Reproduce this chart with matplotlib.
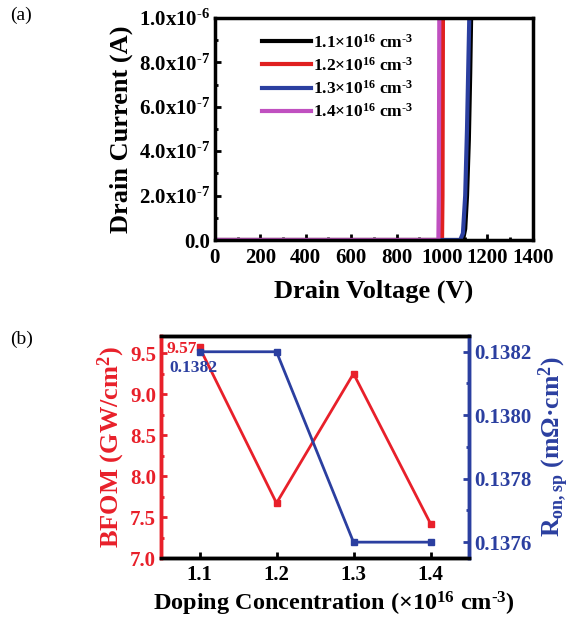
import math
import matplotlib
matplotlib.use("Agg")
import matplotlib.pyplot as plt
from matplotlib.ticker import MultipleLocator, AutoMinorLocator, FuncFormatter

plt.rcParams['font.family'] = ['Liberation Serif', 'DejaVu Serif']
plt.rcParams['font.weight'] = 'bold'
plt.rcParams['mathtext.fontset'] = 'custom'
plt.rcParams['mathtext.rm'] = 'Liberation Serif:bold'
plt.rcParams['mathtext.it'] = 'Liberation Serif:bold'
plt.rcParams['mathtext.bf'] = 'Liberation Serif:bold'
plt.rcParams['mathtext.default'] = 'regular'

# (a) I-V curves
V_11 = [0, 1092, 1102, 1110, 1118, 1124, 1128]
I_11 = [0, 0, 0.5e-7, 2e-7, 4.5e-7, 7.5e-7, 1.0e-6]
V_12 = [0, 1000, 1002, 1003, 1004]
I_12 = [0, 0, 2e-7, 6e-7, 1.0e-6]
V_13 = [0, 1080, 1092, 1102, 1110, 1116, 1120]
I_13 = [0, 0, 0.3e-7, 2e-7, 5e-7, 8e-7, 1.0e-6]
V_14 = [0, 984, 986, 987, 988]
I_14 = [0, 0, 2e-7, 6e-7, 1.0e-6]
iv_labels = [r'1.1×10$^{16}$ cm$^{\text{-}3}$', r'1.2×10$^{16}$ cm$^{\text{-}3}$',
             r'1.3×10$^{16}$ cm$^{\text{-}3}$', r'1.4×10$^{16}$ cm$^{\text{-}3}$']

# (b) BFOM and Ron,sp
doping = [1.1, 1.2, 1.3, 1.4]
bfom = [9.57, 7.67, 9.25, 7.42]
ron = [0.1382, 0.1382, 0.1376, 0.1376]

fig = plt.figure(figsize=(5.73, 6.17), dpi=100)

ax1 = fig.add_axes([0.375, 0.611, 0.555, 0.36])
ax1.plot(V_11, I_11, color='black', lw=3, label=iv_labels[0])
ax1.plot(V_12, I_12, color='#e02020', lw=3, label=iv_labels[1])
ax1.plot(V_13, I_13, color='#2b3fa0', lw=3, label=iv_labels[2])
ax1.plot(V_14, I_14, color='#c050c0', lw=3, label=iv_labels[3])
ax1.set_xlim(0, 1400)
ax1.set_ylim(0, 1.0e-6)
ax1.xaxis.set_major_locator(MultipleLocator(200))
ax1.xaxis.set_minor_locator(MultipleLocator(100))
ax1.yaxis.set_major_locator(MultipleLocator(2e-7))
ax1.yaxis.set_minor_locator(MultipleLocator(1e-7))


def sci_fmt(v, pos):
    if abs(v) < 1e-12:
        return '0.0'
    exp = int(math.floor(math.log10(abs(v)) + 1e-9))
    mant = v / 10 ** exp
    return r'%.1fx10$^{\text{-}%d}$' % (mant, -exp)


ax1.yaxis.set_major_formatter(FuncFormatter(sci_fmt))
ax1.tick_params(which='both', direction='in', top=False, right=False, width=2)
ax1.tick_params(which='major', length=4, labelsize=15)
ax1.tick_params(axis='x', which='major', pad=6)
ax1.tick_params(which='minor', length=2)
for s in ax1.spines.values():
    s.set_linewidth(2.5)
ax1.set_xlabel('Drain Voltage (V)', fontsize=19, fontweight='bold', labelpad=8)
ax1.set_ylabel('Drain Current (A)', fontsize=19, fontweight='bold')
leg = ax1.legend(loc='upper left', frameon=False, fontsize=12.5, handlelength=2.8,
                 handletextpad=0.1, labelspacing=0.3, bbox_to_anchor=(0.1, 1.0))
for t in leg.get_texts():
    t.set_fontweight('bold')

# (b)
red = '#e8202a'
blue = '#2b3fa0'
ax2 = fig.add_axes([0.281, 0.0956, 0.5375, 0.36])
ax2.plot(doping, bfom, color=red, lw=2, marker='s', ms=4)
ax2.set_xlim(1.05, 1.45)
ax2.set_ylim(7.0, 9.71)
ax2.xaxis.set_major_locator(MultipleLocator(0.1))
ax2.xaxis.set_major_formatter(FuncFormatter(lambda v, p: '%.1f' % v))
ax2.yaxis.set_major_locator(MultipleLocator(0.5))
ax2.yaxis.set_minor_locator(AutoMinorLocator(2))
ax2.tick_params(which='both', direction='in', top=False, width=2)
ax2.tick_params(axis='x', which='major', length=4, labelsize=15, pad=5)
ax2.tick_params(axis='y', which='major', length=4, labelsize=15, colors=red)
ax2.tick_params(axis='y', which='minor', length=2, colors=red)
ax2.set_xlabel(r'Doping Concentration (×10$^{16}$ cm$^{\text{-}3}$)', fontsize=17.5,
               fontweight='bold')
ax2.xaxis.set_label_coords(0.56, -0.145)
ax2.set_ylabel(r'BFOM (GW/cm$^{2}$)', fontsize=19, fontweight='bold', color=red, labelpad=2)
ax2.annotate('9.57', (doping[0], bfom[0]), xytext=(-2, -1), textcoords='offset points',
             ha='right', va='center', color=red, fontsize=12.5, fontweight='bold')

ax3 = ax2.twinx()
ax3.plot(doping, ron, color=blue, lw=2, marker='s', ms=4)
ax3.set_ylim(0.13755, 0.13825)
ax3.yaxis.set_major_locator(MultipleLocator(0.0002))
ax3.yaxis.set_minor_locator(AutoMinorLocator(2))
ax3.yaxis.set_major_formatter(FuncFormatter(lambda v, p: '%.4f' % v))
ax3.tick_params(which='both', direction='in', width=2, colors=blue)
ax3.tick_params(which='major', length=4, labelsize=15)
ax3.tick_params(which='minor', length=2)
ax3.set_ylabel(r'R$_{on,sp}$ (mΩ·cm$^{2}$)', fontsize=18.5, fontweight='bold', color=blue)
ax3.annotate('0.1382', (doping[0], ron[0]), xytext=(-22, -12), textcoords='offset points',
             ha='left', va='center', color=blue, fontsize=12.5, fontweight='bold')

for s in ax2.spines.values():
    s.set_linewidth(2.5)
for s in ax3.spines.values():
    s.set_linewidth(2.5)
ax3.spines['left'].set_color(red)
ax3.spines['right'].set_color(blue)
ax2.spines['left'].set_color(red)
ax2.spines['right'].set_color(blue)

fig.text(0.017, 0.975, '(a)', fontsize=14, fontweight='normal', va='center')
fig.text(0.017, 0.45, '(b)', fontsize=14, fontweight='normal', va='center')

fig.savefig('out.png', dpi=100)
